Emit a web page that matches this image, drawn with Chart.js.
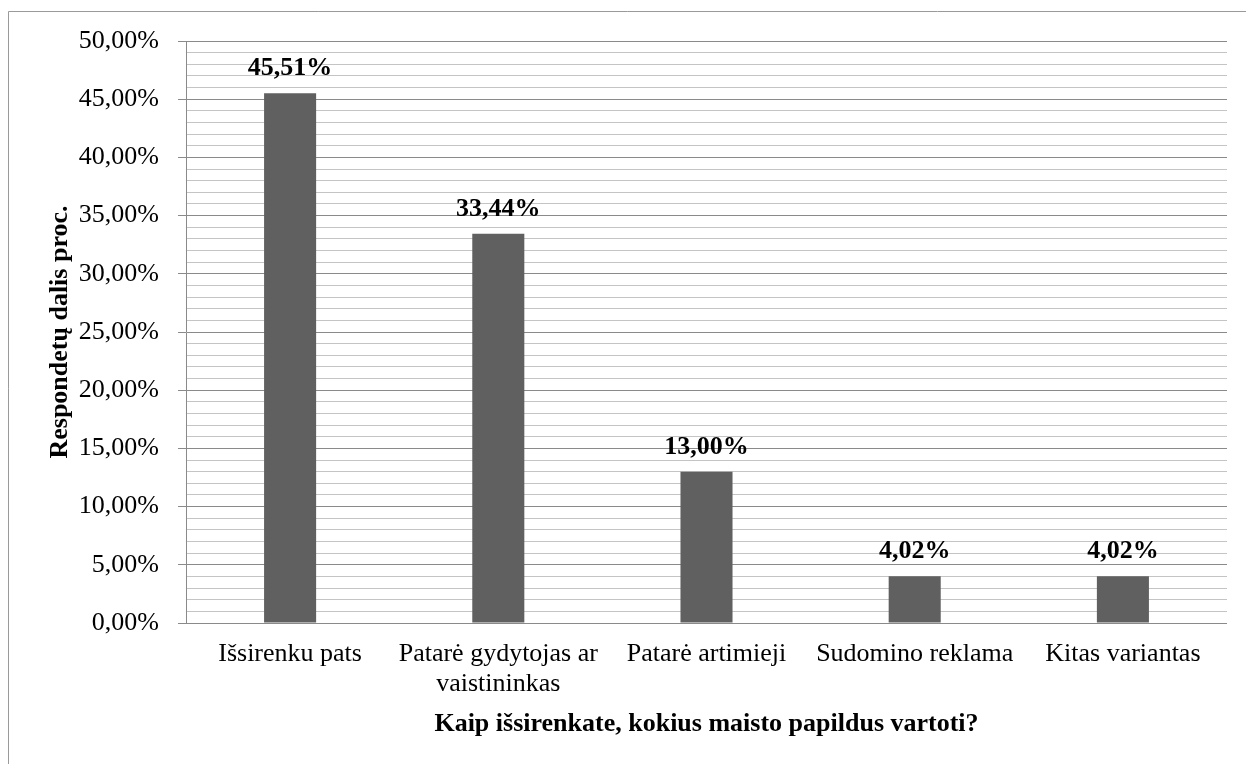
<!DOCTYPE html>
<html>
<head>
<meta charset="utf-8">
<script src="https://cdn.jsdelivr.net/npm/chart.js@4"></script>
<style>
  html, body { margin: 0; padding: 0; background: #ffffff; }
  canvas { display: block; }
</style>
</head>
<body>
<canvas id="c" width="1246" height="764"></canvas>
<script>
const categories = ["Išsirenku pats", ["Patarė gydytojas ar", "vaistininkas"], "Patarė artimieji", "Sudomino reklama", "Kitas variantas"];
const values = [45.51, 33.44, 13.00, 4.02, 4.02];
const yMin = 0, yMax = 50, yStep = 1, yMajorStep = 5;
const xTitle = "Kaip išsirenkate, kokius maisto papildus vartoti?";
const yTitle = "Respondetų dalis proc.";

const FONT = "'Liberation Serif', 'Times New Roman', serif";
const fmt = v => v.toFixed(2).replace('.', ',') + '%';
const isMajor = v => Math.abs(v % yMajorStep) < 1e-9;

const framePlugin = {
  id: 'frame',
  beforeDraw(chart) {
    const ctx = chart.ctx;
    ctx.save();
    ctx.fillStyle = '#ffffff';
    ctx.fillRect(0, 0, chart.width, chart.height);
    ctx.strokeStyle = '#9a9a9a';
    ctx.lineWidth = 1;
    ctx.beginPath();
    ctx.moveTo(8.5, chart.height + 5);
    ctx.lineTo(8.5, 11.5);
    ctx.lineTo(chart.width + 5, 11.5);
    ctx.stroke();
    ctx.restore();
  }
};

const labelPlugin = {
  id: 'barLabels',
  afterDatasetsDraw(chart) {
    const ctx = chart.ctx;
    const meta = chart.getDatasetMeta(0);
    ctx.save();
    ctx.font = "bold 26px " + FONT;
    ctx.fillStyle = '#000000';
    ctx.textAlign = 'center';
    ctx.textBaseline = 'alphabetic';
    meta.data.forEach((bar, i) => {
      ctx.fillText(fmt(chart.data.datasets[0].data[i]), bar.x, bar.y - 18);
    });
    ctx.restore();
  }
};

new Chart(document.getElementById('c'), {
  type: 'bar',
  data: {
    labels: categories,
    datasets: [{
      data: values,
      backgroundColor: '#606060',
      borderWidth: 0,
      barPercentage: 0.25,
      categoryPercentage: 1.0
    }]
  },
  plugins: [framePlugin, labelPlugin],
  options: {
    responsive: false,
    devicePixelRatio: 1,
    animation: false,
    layout: { padding: { top: 41, right: 19, left: 0, bottom: 0 } },
    plugins: { legend: { display: false }, tooltip: { enabled: false } },
    scales: {
      x: {
        afterFit(scale) { scale.height = 141; },
        grid: { display: true, drawOnChartArea: false, drawTicks: false },
        border: { display: false },
        ticks: {
          color: '#000000',
          font: { family: FONT, size: 26, lineHeight: 1.15 },
          padding: 16,
          maxRotation: 0,
          autoSkip: false
        },
        title: {
          display: true,
          text: xTitle,
          color: '#000000',
          font: { family: FONT, size: 26, weight: 'bold', lineHeight: 1.2 },
          padding: { top: 0, bottom: 24 }
        }
      },
      y: {
        min: yMin,
        max: yMax,
        afterFit(scale) { scale.width = 186; },
        border: { display: true, color: '#8a8a8a', width: 1 },
        grid: {
          color: c => isMajor(c.tick.value) ? '#8a8a8a' : '#c4c4c4',
          tickColor: c => isMajor(c.tick.value) ? '#8a8a8a' : 'rgba(0,0,0,0)',
          tickLength: 8,
          lineWidth: 1
        },
        ticks: {
          stepSize: yStep,
          autoSkip: false,
          color: '#000000',
          padding: 19,
          font: { family: FONT, size: 26 },
          callback: v => isMajor(v) ? fmt(v) : ''
        },
        title: {
          display: true,
          text: yTitle,
          color: '#000000',
          font: { family: FONT, size: 26, weight: 'bold', lineHeight: 1.2 },
          padding: { top: 45, bottom: 0 }
        }
      }
    }
  }
});
</script>
</body>
</html>
